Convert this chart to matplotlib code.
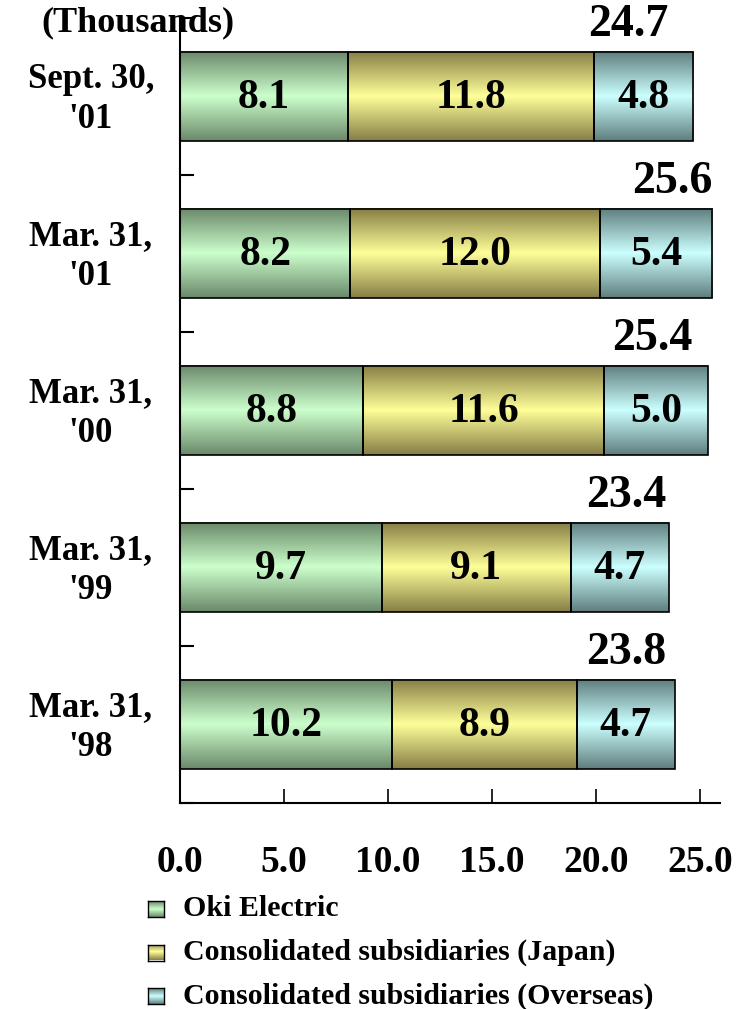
import numpy as np
import matplotlib
matplotlib.use("Agg")
import matplotlib.pyplot as plt
from matplotlib.colors import LinearSegmentedColormap
from matplotlib.patches import Rectangle

# Employees by group segment (thousands)
periods = ["Sept. 30,\n'01", "Mar. 31,\n'01", "Mar. 31,\n'00", "Mar. 31,\n'99", "Mar. 31,\n'98"]
oki_electric = [8.1, 8.2, 8.8, 9.7, 10.2]
subs_japan = [11.8, 12.0, 11.6, 9.1, 8.9]
subs_overseas = [4.8, 5.4, 5.0, 4.7, 4.7]
totals = [24.7, 25.6, 25.4, 23.4, 23.8]
series_names = ["Oki Electric", "Consolidated subsidiaries (Japan)",
                "Consolidated subsidiaries (Overseas)"]
x_ticks = [0.0, 5.0, 10.0, 15.0, 20.0, 25.0]

# Shading: dark at top and bottom edges, light through the middle
shades = [("#6a886a", "#ccffcc"), ("#857d45", "#ffff99"), ("#5f7d7d", "#ccffff")]
cmaps = [LinearSegmentedColormap.from_list(f"s{i}", [d, l, d]) for i, (d, l) in enumerate(shades)]

plt.rcParams["font.family"] = ["Liberation Serif", "DejaVu Serif"]
plt.rcParams["font.weight"] = "bold"

fig = plt.figure(figsize=(7.45, 10.09), dpi=100)
ax = fig.add_axes([0.2416, 0.2042, 0.7255, 0.778])

bar_h = 0.567
ypos = np.arange(len(periods))
grad = np.linspace(0, 1, 256).reshape(-1, 1)

series = [oki_electric, subs_japan, subs_overseas]
for yi, y in enumerate(ypos):
    left = 0.0
    for si, vals in enumerate(series):
        w = vals[yi]
        ax.imshow(grad, cmap=cmaps[si], aspect="auto", interpolation="bilinear",
                  extent=(left, left + w, y + bar_h / 2, y - bar_h / 2), zorder=2)
        ax.add_patch(Rectangle((left, y - bar_h / 2), w, bar_h, fill=False,
                               edgecolor="black", lw=1.2, zorder=3))
        ax.text(left + w / 2, y + 0.01, f"{w:.1f}", ha="center", va="center",
                fontsize=30, fontweight="bold", zorder=4)
        left += w

# Totals sit above each bar, slightly left of its end
total_shift = [3.15, 1.93, 2.7, 1.95, 2.35]
for yi, y in enumerate(ypos):
    ax.text(totals[yi] - total_shift[yi], y - bar_h / 2 - 0.035, f"{totals[yi]:.1f}",
            ha="center", va="bottom", fontsize=33, fontweight="bold")

ax.set_xlim(0, 26.0)
ax.set_ylim(len(periods) - 0.5, -0.5)
ax.set_xticks(x_ticks)
ax.set_xticklabels([f"{t:.1f}" for t in x_ticks], fontsize=27, fontweight="bold")
ax.set_yticks(np.arange(len(periods) + 1) - 0.5)
ax.set_yticklabels([])
ax.tick_params(axis="x", direction="in", length=10, width=1.2, pad=30)
ax.tick_params(axis="y", direction="in", length=10, width=1.5)
for s in ("top", "right"):
    ax.spines[s].set_visible(False)
for s in ("left", "bottom"):
    ax.spines[s].set_linewidth(1.5)

for yi, y in enumerate(ypos):
    ax.text(-0.165, y + 0.02, periods[yi], transform=ax.get_yaxis_transform(),
            ha="center", va="center", multialignment="center",
            fontsize=25, fontweight="bold", linespacing=1.25)

fig.text(0.055, 0.977, "(Thousands)", ha="left", va="center", fontsize=26, fontweight="bold")

# Legend rows with small shaded swatches
for si, name in enumerate(series_names):
    yf = 1 - (909 + si * 43.5) / 1009
    sw = fig.add_axes([148 / 745, yf - 8 / 1009, 16 / 745, 16 / 1009])
    sw.imshow(grad, cmap=cmaps[si], aspect="auto", extent=(0, 1, 1, 0))
    sw.set_xticks([]); sw.set_yticks([])
    for sp in sw.spines.values():
        sp.set_linewidth(1.0)
    fig.text(183 / 745, yf, name, ha="left", va="center", fontsize=21.5, fontweight="bold")

fig.savefig("out.png", dpi=100)
